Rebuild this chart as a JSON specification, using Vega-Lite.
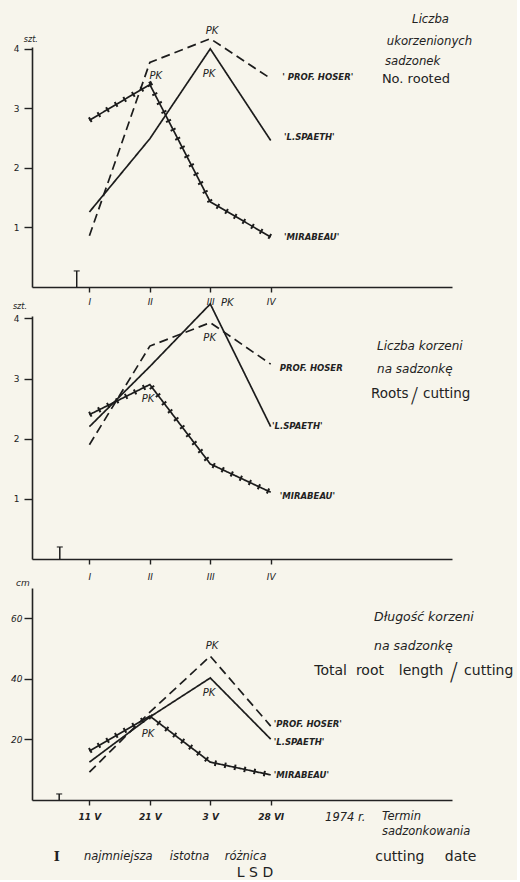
{
  "$schema": "https://vega.github.io/schema/vega-lite/v6.json",
  "background": "#f7f5ec",
  "padding": {"left": 10, "top": 14, "right": 3, "bottom": 0},
  "bounds": "flush",
  "spacing": 29,
  "config": {
    "view": {"stroke": null},
    "axis": {
      "domainColor": "#222", "domainWidth": 1.6, "tickColor": "#222", "tickWidth": 1.4,
      "labelColor": "#222", "labelFont": "DejaVu Sans", "labelFontStyle": "italic", "labelFontSize": 9,
      "grid": false, "title": null
    },
    "text": {"font": "DejaVu Sans", "color": "#222", "baseline": "middle", "align": "left"}
  },
  "datasets": {
    "series": [
      {"p": 1, "variety": "PROF. HOSER", "t": 1, "v": 0.86},
      {"p": 1, "variety": "PROF. HOSER", "t": 2, "v": 3.77},
      {"p": 1, "variety": "PROF. HOSER", "t": 3, "v": 4.17},
      {"p": 1, "variety": "PROF. HOSER", "t": 4, "v": 3.5},
      {"p": 1, "variety": "L.SPAETH", "t": 1, "v": 1.26},
      {"p": 1, "variety": "L.SPAETH", "t": 2, "v": 2.49},
      {"p": 1, "variety": "L.SPAETH", "t": 3, "v": 4.0},
      {"p": 1, "variety": "L.SPAETH", "t": 4, "v": 2.46},
      {"p": 1, "variety": "MIRABEAU", "t": 1, "v": 2.8},
      {"p": 1, "variety": "MIRABEAU", "t": 2, "v": 3.4},
      {"p": 1, "variety": "MIRABEAU", "t": 3, "v": 1.43},
      {"p": 1, "variety": "MIRABEAU", "t": 4, "v": 0.84},
      {"p": 2, "variety": "PROF. HOSER", "t": 1, "v": 1.9},
      {"p": 2, "variety": "PROF. HOSER", "t": 2, "v": 3.54},
      {"p": 2, "variety": "PROF. HOSER", "t": 3, "v": 3.93},
      {"p": 2, "variety": "PROF. HOSER", "t": 4, "v": 3.24},
      {"p": 2, "variety": "L.SPAETH", "t": 1, "v": 2.2},
      {"p": 2, "variety": "L.SPAETH", "t": 2, "v": 3.2},
      {"p": 2, "variety": "L.SPAETH", "t": 3, "v": 4.24},
      {"p": 2, "variety": "L.SPAETH", "t": 4, "v": 2.2},
      {"p": 2, "variety": "MIRABEAU", "t": 1, "v": 2.4},
      {"p": 2, "variety": "MIRABEAU", "t": 2, "v": 2.9},
      {"p": 2, "variety": "MIRABEAU", "t": 3, "v": 1.58},
      {"p": 2, "variety": "MIRABEAU", "t": 4, "v": 1.11},
      {"p": 3, "variety": "PROF. HOSER", "t": 1, "v": 9.2},
      {"p": 3, "variety": "PROF. HOSER", "t": 2, "v": 29},
      {"p": 3, "variety": "PROF. HOSER", "t": 3, "v": 47.5},
      {"p": 3, "variety": "PROF. HOSER", "t": 4, "v": 24.4},
      {"p": 3, "variety": "L.SPAETH", "t": 1, "v": 12.5},
      {"p": 3, "variety": "L.SPAETH", "t": 2, "v": 27.4},
      {"p": 3, "variety": "L.SPAETH", "t": 3, "v": 40.3},
      {"p": 3, "variety": "L.SPAETH", "t": 4, "v": 20.1},
      {"p": 3, "variety": "MIRABEAU", "t": 1, "v": 16.2},
      {"p": 3, "variety": "MIRABEAU", "t": 2, "v": 27.7},
      {"p": 3, "variety": "MIRABEAU", "t": 3, "v": 12.5},
      {"p": 3, "variety": "MIRABEAU", "t": 4, "v": 8.3}
    ],
    "lsd": [
      {"p": 1, "t": 0.79, "lo": 0, "v": 0.27},
      {"p": 2, "t": 0.51, "lo": 0, "v": 0.2},
      {"p": 3, "t": 0.5, "lo": 0, "v": 2}
    ],
    "notes": [
      {"p": 1, "k": "pk", "t": 3.03, "v": 4.3, "s": "PK"},
      {"p": 1, "k": "pk", "t": 2.1, "v": 3.54, "s": "PK"},
      {"p": 1, "k": "pk", "t": 2.98, "v": 3.58, "s": "PK"},
      {"p": 1, "k": "ser", "t": 4.19, "v": 3.53, "s": "' PROF. HOSER'"},
      {"p": 1, "k": "ser", "t": 4.22, "v": 2.52, "s": "'L.SPAETH'"},
      {"p": 1, "k": "ser", "t": 4.22, "v": 0.84, "s": "'MIRABEAU'"},
      {"p": 1, "k": "ti", "t": 6.34, "v": 4.5, "s": "Liczba"},
      {"p": 1, "k": "ti", "t": 5.92, "v": 4.13, "s": "ukorzenionych"},
      {"p": 1, "k": "ti", "t": 5.89, "v": 3.8, "s": "sadzonek"},
      {"p": 1, "k": "tu", "t": 5.84, "v": 3.49, "s": "No. rooted"},
      {"p": 1, "k": "ax", "t": 0.03, "v": 4.15, "s": "szt."},
      {"p": 2, "k": "pk", "t": 3.28, "v": 4.26, "s": "PK"},
      {"p": 2, "k": "pk", "t": 2.99, "v": 3.67, "s": "PK"},
      {"p": 2, "k": "pk", "t": 1.97, "v": 2.66, "s": "PK"},
      {"p": 2, "k": "ser", "t": 4.15, "v": 3.18, "s": "PROF. HOSER"},
      {"p": 2, "k": "ser", "t": 4.02, "v": 2.21, "s": "'L.SPAETH'"},
      {"p": 2, "k": "ser", "t": 4.15, "v": 1.05, "s": "'MIRABEAU'"},
      {"p": 2, "k": "ti", "t": 5.76, "v": 3.54, "s": "Liczba  korzeni"},
      {"p": 2, "k": "ti", "t": 5.76, "v": 3.16, "s": "na  sadzonkę"},
      {"p": 2, "k": "tu", "t": 5.66, "v": 2.74, "s": "Roots"},
      {"p": 2, "k": "tu", "t": 6.52, "v": 2.74, "s": "cutting"},
      {"p": 2, "k": "sl", "t": 6.38, "v": 2.71, "s": "/"},
      {"p": 2, "k": "ax", "t": -0.15, "v": 4.19, "s": "szt."},
      {"p": 3, "k": "pk", "t": 3.03, "v": 50.8, "s": "PK"},
      {"p": 3, "k": "pk", "t": 2.98, "v": 35.3, "s": "PK"},
      {"p": 3, "k": "pk", "t": 1.97, "v": 21.8, "s": "PK"},
      {"p": 3, "k": "ser", "t": 4.05, "v": 25.1, "s": "'PROF. HOSER'"},
      {"p": 3, "k": "ser", "t": 4.05, "v": 19.1, "s": "'L.SPAETH'"},
      {"p": 3, "k": "ser", "t": 4.05, "v": 8.3, "s": "'MIRABEAU'"},
      {"p": 3, "k": "ti", "t": 5.71, "v": 60.4, "s": "Długość   korzeni"},
      {"p": 3, "k": "ti", "t": 5.71, "v": 50.8, "s": "na  sadzonkę"},
      {"p": 3, "k": "tu", "t": 4.72, "v": 42.6, "s": "Total"},
      {"p": 3, "k": "tu", "t": 5.41, "v": 42.6, "s": "root"},
      {"p": 3, "k": "tu", "t": 6.12, "v": 42.6, "s": "length"},
      {"p": 3, "k": "tu", "t": 7.2, "v": 42.6, "s": "cutting"},
      {"p": 3, "k": "sl", "t": 7.03, "v": 42.0, "s": "/"},
      {"p": 3, "k": "sm", "t": 4.9, "v": -5.9, "s": "1974 r."},
      {"p": 3, "k": "sm", "t": 5.84, "v": -5.6, "s": "Termin"},
      {"p": 3, "k": "sm", "t": 5.84, "v": -10.6, "s": "sadzonkowania"},
      {"p": 3, "k": "sm", "t": 0.91, "v": -18.8, "s": "najmniejsza"},
      {"p": 3, "k": "sm", "t": 2.33, "v": -18.8, "s": "istotna"},
      {"p": 3, "k": "sm", "t": 3.24, "v": -18.8, "s": "różnica"},
      {"p": 3, "k": "tu", "t": 5.73, "v": -18.8, "s": "cutting"},
      {"p": 3, "k": "tu", "t": 6.88, "v": -18.8, "s": "date"},
      {"p": 3, "k": "tu", "t": 3.44, "v": -24.1, "s": "L S D"},
      {"p": 3, "k": "sym", "t": 0.46, "v": -18.8, "s": "I"},
      {"p": 3, "k": "ax", "t": -0.1, "v": 71.6, "s": "cm"}
    ]
  },
  "vconcat": [
    {
      "width": 420, "height": 240,
      "layer": [
        {
          "data": {"name": "series"},
          "transform": [{"filter": "datum.p == 1"}],
          "mark": {"type": "line", "color": "#1c1c1c", "strokeWidth": 1.7},
          "encoding": {
            "x": {"field": "t", "type": "quantitative", "scale": {"domain": [0.05, 7], "nice": false},
                  "axis": {"values": [1, 2, 3, 4], "labelExpr": "['','I','II','III','IV'][datum.value]", "tickSize": 5, "labelPadding": 5}},
            "y": {"field": "v", "type": "quantitative", "scale": {"domain": [0, 4.03], "nice": false},
                  "axis": {"values": [1, 2, 3, 4], "format": "d", "labelFontStyle": "normal", "tickSize": 8, "labelPadding": 5}},
            "detail": {"field": "variety", "type": "nominal"},
            "strokeDash": {"field": "variety", "type": "nominal", "scale": {"domain": ["PROF. HOSER", "L.SPAETH", "MIRABEAU"], "range": [[9, 5], [1, 0], [1, 0]]}, "legend": null}
          }
        },
        {
          "data": {"name": "series"},
          "transform": [{"filter": "datum.p == 1 && datum.variety == 'MIRABEAU'"}],
          "mark": {"type": "line", "color": "#1c1c1c", "strokeWidth": 5.5, "strokeDash": [2, 8], "strokeCap": "butt"},
          "encoding": {"x": {"field": "t", "type": "quantitative"}, "y": {"field": "v", "type": "quantitative"}}
        },
        {
          "data": {"name": "lsd"},
          "transform": [{"filter": "datum.p == 1"}],
          "mark": {"type": "rule", "color": "#1c1c1c", "strokeWidth": 1.5},
          "encoding": {"x": {"field": "t", "type": "quantitative"}, "y": {"field": "lo", "type": "quantitative"}, "y2": {"field": "v"}}
        },
        {
          "data": {"name": "lsd"},
          "transform": [{"filter": "datum.p == 1"}],
          "mark": {"type": "tick", "orient": "horizontal", "color": "#1c1c1c", "size": 6, "thickness": 1.5},
          "encoding": {"x": {"field": "t", "type": "quantitative"}, "y": {"field": "v", "type": "quantitative"}}
        },
        {
          "data": {"name": "notes"},
          "transform": [{"filter": "datum.p == 1 && datum.k == 'pk'"}],
          "mark": {"type": "text", "fontStyle": "italic", "fontSize": 10, "align": "center"},
          "encoding": {"x": {"field": "t", "type": "quantitative"}, "y": {"field": "v", "type": "quantitative"}, "text": {"field": "s", "type": "nominal"}}
        },
        {
          "data": {"name": "notes"},
          "transform": [{"filter": "datum.p == 1 && datum.k == 'ser'"}],
          "mark": {"type": "text", "fontStyle": "italic", "fontWeight": "bold", "fontSize": 8.5},
          "encoding": {"x": {"field": "t", "type": "quantitative"}, "y": {"field": "v", "type": "quantitative"}, "text": {"field": "s", "type": "nominal"}}
        },
        {
          "data": {"name": "notes"},
          "transform": [{"filter": "datum.p == 1 && datum.k == 'ti'"}],
          "mark": {"type": "text", "fontStyle": "italic", "fontSize": 11.7},
          "encoding": {"x": {"field": "t", "type": "quantitative"}, "y": {"field": "v", "type": "quantitative"}, "text": {"field": "s", "type": "nominal"}}
        },
        {
          "data": {"name": "notes"},
          "transform": [{"filter": "datum.p == 1 && datum.k == 'tu'"}],
          "mark": {"type": "text", "fontSize": 13},
          "encoding": {"x": {"field": "t", "type": "quantitative"}, "y": {"field": "v", "type": "quantitative"}, "text": {"field": "s", "type": "nominal"}}
        },
        {
          "data": {"name": "notes"},
          "transform": [{"filter": "datum.p == 1 && datum.k == 'ax'"}],
          "mark": {"type": "text", "fontStyle": "italic", "fontSize": 8, "align": "center"},
          "encoding": {"x": {"field": "t", "type": "quantitative"}, "y": {"field": "v", "type": "quantitative"}, "text": {"field": "s", "type": "nominal"}}
        }
      ]
    },
    {
      "width": 420, "height": 243,
      "layer": [
        {
          "data": {"name": "series"},
          "transform": [{"filter": "datum.p == 2"}],
          "mark": {"type": "line", "color": "#1c1c1c", "strokeWidth": 1.7},
          "encoding": {
            "x": {"field": "t", "type": "quantitative", "scale": {"domain": [0.05, 7], "nice": false},
                  "axis": {"values": [1, 2, 3, 4], "labelExpr": "['','I','II','III','IV'][datum.value]", "tickSize": 5, "labelPadding": 8}},
            "y": {"field": "v", "type": "quantitative", "scale": {"domain": [0, 4.04], "nice": false},
                  "axis": {"values": [1, 2, 3, 4], "format": "d", "labelFontStyle": "normal", "tickSize": 8, "labelPadding": 5}},
            "detail": {"field": "variety", "type": "nominal"},
            "strokeDash": {"field": "variety", "type": "nominal", "scale": {"domain": ["PROF. HOSER", "L.SPAETH", "MIRABEAU"], "range": [[9, 5], [1, 0], [1, 0]]}, "legend": null}
          }
        },
        {
          "data": {"name": "series"},
          "transform": [{"filter": "datum.p == 2 && datum.variety == 'MIRABEAU'"}],
          "mark": {"type": "line", "color": "#1c1c1c", "strokeWidth": 5.5, "strokeDash": [2, 8], "strokeCap": "butt"},
          "encoding": {"x": {"field": "t", "type": "quantitative"}, "y": {"field": "v", "type": "quantitative"}}
        },
        {
          "data": {"name": "lsd"},
          "transform": [{"filter": "datum.p == 2"}],
          "mark": {"type": "rule", "color": "#1c1c1c", "strokeWidth": 1.5},
          "encoding": {"x": {"field": "t", "type": "quantitative"}, "y": {"field": "lo", "type": "quantitative"}, "y2": {"field": "v"}}
        },
        {
          "data": {"name": "lsd"},
          "transform": [{"filter": "datum.p == 2"}],
          "mark": {"type": "tick", "orient": "horizontal", "color": "#1c1c1c", "size": 6, "thickness": 1.5},
          "encoding": {"x": {"field": "t", "type": "quantitative"}, "y": {"field": "v", "type": "quantitative"}}
        },
        {
          "data": {"name": "notes"},
          "transform": [{"filter": "datum.p == 2 && datum.k == 'pk'"}],
          "mark": {"type": "text", "fontStyle": "italic", "fontSize": 10, "align": "center"},
          "encoding": {"x": {"field": "t", "type": "quantitative"}, "y": {"field": "v", "type": "quantitative"}, "text": {"field": "s", "type": "nominal"}}
        },
        {
          "data": {"name": "notes"},
          "transform": [{"filter": "datum.p == 2 && datum.k == 'ser'"}],
          "mark": {"type": "text", "fontStyle": "italic", "fontWeight": "bold", "fontSize": 8.5},
          "encoding": {"x": {"field": "t", "type": "quantitative"}, "y": {"field": "v", "type": "quantitative"}, "text": {"field": "s", "type": "nominal"}}
        },
        {
          "data": {"name": "notes"},
          "transform": [{"filter": "datum.p == 2 && datum.k == 'ti'"}],
          "mark": {"type": "text", "fontStyle": "italic", "fontSize": 12},
          "encoding": {"x": {"field": "t", "type": "quantitative"}, "y": {"field": "v", "type": "quantitative"}, "text": {"field": "s", "type": "nominal"}}
        },
        {
          "data": {"name": "notes"},
          "transform": [{"filter": "datum.p == 2 && datum.k == 'tu'"}],
          "mark": {"type": "text", "fontSize": 13.5},
          "encoding": {"x": {"field": "t", "type": "quantitative"}, "y": {"field": "v", "type": "quantitative"}, "text": {"field": "s", "type": "nominal"}}
        },
        {
          "data": {"name": "notes"},
          "transform": [{"filter": "datum.p == 2 && datum.k == 'sl'"}],
          "mark": {"type": "text", "fontSize": 22, "align": "center", "fontWeight": "lighter"},
          "encoding": {"x": {"field": "t", "type": "quantitative"}, "y": {"field": "v", "type": "quantitative"}, "text": {"field": "s", "type": "nominal"}}
        },
        {
          "data": {"name": "notes"},
          "transform": [{"filter": "datum.p == 2 && datum.k == 'ax'"}],
          "mark": {"type": "text", "fontStyle": "italic", "fontSize": 8, "align": "center"},
          "encoding": {"x": {"field": "t", "type": "quantitative"}, "y": {"field": "v", "type": "quantitative"}, "text": {"field": "s", "type": "nominal"}}
        }
      ]
    },
    {
      "width": 420, "height": 212,
      "layer": [
        {
          "data": {"name": "series"},
          "transform": [{"filter": "datum.p == 3"}],
          "mark": {"type": "line", "color": "#1c1c1c", "strokeWidth": 1.7},
          "encoding": {
            "x": {"field": "t", "type": "quantitative", "scale": {"domain": [0.05, 7], "nice": false},
                  "axis": {"values": [1, 2, 3, 4], "labelExpr": "['','11 V','21 V','3 V','28 VI'][datum.value]", "tickSize": 5, "labelPadding": 7, "labelFontWeight": "bold"}},
            "y": {"field": "v", "type": "quantitative", "scale": {"domain": [0, 70], "nice": false},
                  "axis": {"values": [20, 40, 60], "format": "d", "tickSize": 8, "labelPadding": 2}},
            "detail": {"field": "variety", "type": "nominal"},
            "strokeDash": {"field": "variety", "type": "nominal", "scale": {"domain": ["PROF. HOSER", "L.SPAETH", "MIRABEAU"], "range": [[9, 5], [1, 0], [1, 0]]}, "legend": null}
          }
        },
        {
          "data": {"name": "series"},
          "transform": [{"filter": "datum.p == 3 && datum.variety == 'MIRABEAU'"}],
          "mark": {"type": "line", "color": "#1c1c1c", "strokeWidth": 5.5, "strokeDash": [2, 8], "strokeCap": "butt"},
          "encoding": {"x": {"field": "t", "type": "quantitative"}, "y": {"field": "v", "type": "quantitative"}}
        },
        {
          "data": {"name": "lsd"},
          "transform": [{"filter": "datum.p == 3"}],
          "mark": {"type": "rule", "color": "#1c1c1c", "strokeWidth": 1.5},
          "encoding": {"x": {"field": "t", "type": "quantitative"}, "y": {"field": "lo", "type": "quantitative"}, "y2": {"field": "v"}}
        },
        {
          "data": {"name": "lsd"},
          "transform": [{"filter": "datum.p == 3"}],
          "mark": {"type": "tick", "orient": "horizontal", "color": "#1c1c1c", "size": 6, "thickness": 1.5},
          "encoding": {"x": {"field": "t", "type": "quantitative"}, "y": {"field": "v", "type": "quantitative"}}
        },
        {
          "data": {"name": "notes"},
          "transform": [{"filter": "datum.p == 3 && datum.k == 'pk'"}],
          "mark": {"type": "text", "fontStyle": "italic", "fontSize": 10, "align": "center"},
          "encoding": {"x": {"field": "t", "type": "quantitative"}, "y": {"field": "v", "type": "quantitative"}, "text": {"field": "s", "type": "nominal"}}
        },
        {
          "data": {"name": "notes"},
          "transform": [{"filter": "datum.p == 3 && datum.k == 'ser'"}],
          "mark": {"type": "text", "fontStyle": "italic", "fontWeight": "bold", "fontSize": 8.5},
          "encoding": {"x": {"field": "t", "type": "quantitative"}, "y": {"field": "v", "type": "quantitative"}, "text": {"field": "s", "type": "nominal"}}
        },
        {
          "data": {"name": "notes"},
          "transform": [{"filter": "datum.p == 3 && datum.k == 'ti'"}],
          "mark": {"type": "text", "fontStyle": "italic", "fontSize": 12.5},
          "encoding": {"x": {"field": "t", "type": "quantitative"}, "y": {"field": "v", "type": "quantitative"}, "text": {"field": "s", "type": "nominal"}}
        },
        {
          "data": {"name": "notes"},
          "transform": [{"filter": "datum.p == 3 && datum.k == 'tu'"}],
          "mark": {"type": "text", "fontSize": 14},
          "encoding": {"x": {"field": "t", "type": "quantitative"}, "y": {"field": "v", "type": "quantitative"}, "text": {"field": "s", "type": "nominal"}}
        },
        {
          "data": {"name": "notes"},
          "transform": [{"filter": "datum.p == 3 && datum.k == 'sl'"}],
          "mark": {"type": "text", "fontSize": 24, "align": "center", "fontWeight": "lighter"},
          "encoding": {"x": {"field": "t", "type": "quantitative"}, "y": {"field": "v", "type": "quantitative"}, "text": {"field": "s", "type": "nominal"}}
        },
        {
          "data": {"name": "notes"},
          "transform": [{"filter": "datum.p == 3 && datum.k == 'sm'"}],
          "mark": {"type": "text", "fontStyle": "italic", "fontSize": 11.5},
          "encoding": {"x": {"field": "t", "type": "quantitative"}, "y": {"field": "v", "type": "quantitative"}, "text": {"field": "s", "type": "nominal"}}
        },
        {
          "data": {"name": "notes"},
          "transform": [{"filter": "datum.p == 3 && datum.k == 'sym'"}],
          "mark": {"type": "text", "font": "DejaVu Serif", "fontWeight": "bold", "fontSize": 13, "align": "center"},
          "encoding": {"x": {"field": "t", "type": "quantitative"}, "y": {"field": "v", "type": "quantitative"}, "text": {"field": "s", "type": "nominal"}}
        },
        {
          "data": {"name": "notes"},
          "transform": [{"filter": "datum.p == 3 && datum.k == 'ax'"}],
          "mark": {"type": "text", "fontStyle": "italic", "fontSize": 9, "align": "center"},
          "encoding": {"x": {"field": "t", "type": "quantitative"}, "y": {"field": "v", "type": "quantitative"}, "text": {"field": "s", "type": "nominal"}}
        }
      ]
    }
  ]
}
